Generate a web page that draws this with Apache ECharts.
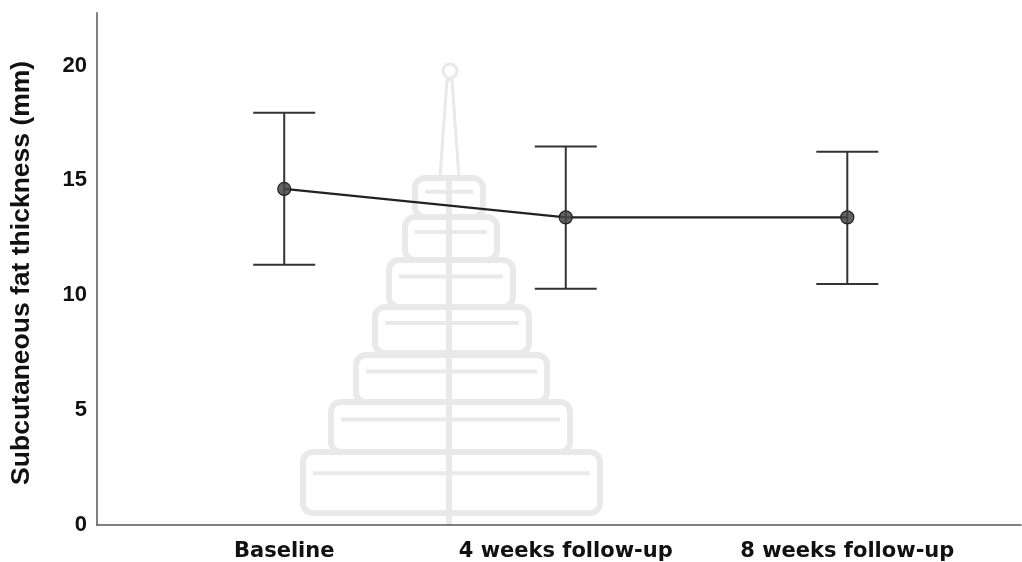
<!DOCTYPE html>
<html>
<head>
<meta charset="utf-8">
<script src="https://cdn.jsdelivr.net/npm/echarts@6/dist/echarts.min.js"></script>
<style>
  html, body { margin: 0; padding: 0; background: #fff; }
  #chart { width: 1022px; height: 562px; }
</style>
</head>
<body>
<div id="chart"></div>
<script>
  // data
  var categories = ['Baseline', '4 weeks follow-up', '8 weeks follow-up'];
  var means = [14.63, 13.39, 13.39];
  var lower = [11.33, 10.28, 10.49];
  var upper = [17.94, 16.48, 16.25];
  var yTicks = [0, 5, 10, 15, 20];

  var chart = echarts.init(document.getElementById('chart'));

  var wm = '#e9e9e9';
  // faint watermark behind the plot (decoration only)
  var tiers = [
    [415, 178, 68, 39], [405, 217, 92, 43], [389, 260, 124, 47],
    [375, 307, 154, 46], [356, 355, 191, 47], [331, 402, 239, 50], [303, 452, 297, 61]
  ];
  var wmChildren = [];
  tiers.forEach(function (t) {
    wmChildren.push({
      type: 'rect',
      shape: { x: t[0], y: t[1], width: t[2], height: t[3], r: 10 },
      style: { fill: 'none', stroke: wm, lineWidth: 6 }
    });
    wmChildren.push({
      type: 'line',
      shape: { x1: t[0] + 10, y1: t[1] + t[3] * 0.35, x2: t[0] + t[2] - 10, y2: t[1] + t[3] * 0.35 },
      style: { stroke: wm, lineWidth: 4 }
    });
  });
  wmChildren.push({
    type: 'polygon',
    shape: { points: [[447, 80], [452, 80], [459, 178], [440, 178]] },
    style: { fill: 'none', stroke: wm, lineWidth: 3 }
  });
  wmChildren.push({
    type: 'circle',
    shape: { cx: 450, cy: 71, r: 7 },
    style: { fill: 'none', stroke: wm, lineWidth: 3 }
  });
  wmChildren.push({
    type: 'line',
    shape: { x1: 449, y1: 178, x2: 449, y2: 525 },
    style: { stroke: wm, lineWidth: 6 }
  });

  var option = {
    backgroundColor: '#fff',
    animation: false,
    graphic: [{ type: 'group', z: -10, silent: true, children: wmChildren }],
    grid: {
      left: 97,
      right: 1,
      top: 12.7,
      bottom: 37,
      outerBoundsMode: 'none',
      containLabel: false
    },
    xAxis: {
      type: 'value',
      min: -0.665,
      max: 2.617,
      splitLine: { show: false },
      axisTick: { show: false },
      axisLine: { onZero: false, lineStyle: { color: '#555', width: 1.5 } },
      axisLabel: {
        customValues: [0, 1, 2],
        formatter: function (v) { return categories[v]; },
        color: '#111',
        fontFamily: 'DejaVu Sans',
        fontWeight: 'bold',
        fontSize: 21,
        margin: 16
      }
    },
    yAxis: {
      type: 'value',
      min: 0,
      max: 22.3,
      interval: 5,
      name: 'Subcutaneous fat thickness (mm)',
      nameLocation: 'middle',
      nameGap: 62,
      nameTextStyle: {
        color: '#111',
        fontFamily: 'Liberation Sans',
        fontWeight: 'bold',
        fontSize: 26.5,
        padding: [0, 8, 0, 0]
      },
      splitLine: { show: false },
      axisTick: { show: false },
      axisLine: { show: true, onZero: false, lineStyle: { color: '#555', width: 1.5 } },
      axisLabel: {
        customValues: yTicks,
        color: '#111',
        fontFamily: 'Liberation Sans',
        fontWeight: 'bold',
        fontSize: 22,
        margin: 10
      }
    },
    series: [
      {
        name: 'error',
        type: 'custom',
        z: 3,
        data: lower.map(function (v, i) { return [i, v, upper[i]]; }),
        renderItem: function (params, api) {
          var x = api.value(0);
          var pLo = api.coord([x, api.value(1)]);
          var pHi = api.coord([x, api.value(2)]);
          var cap = 31;
          var st = { stroke: '#333', lineWidth: 2 };
          return {
            type: 'group',
            children: [
              { type: 'line', shape: { x1: pHi[0], y1: pHi[1], x2: pLo[0], y2: pLo[1] }, style: st },
              { type: 'line', shape: { x1: pHi[0] - cap, y1: pHi[1], x2: pHi[0] + cap, y2: pHi[1] }, style: st },
              { type: 'line', shape: { x1: pLo[0] - cap, y1: pLo[1], x2: pLo[0] + cap, y2: pLo[1] }, style: st }
            ]
          };
        }
      },
      {
        name: 'mean',
        type: 'line',
        z: 4,
        data: means.map(function (v, i) { return [i, v]; }),
        symbol: 'circle',
        symbolSize: 13,
        lineStyle: { color: '#222', width: 2.2 },
        itemStyle: { color: 'rgba(70,70,70,0.85)', borderColor: '#222', borderWidth: 1.2 }
      }
    ]
  };
  chart.setOption(option);
  window.addEventListener('resize', function () {
    chart.resize();
  });
</script>
</body>
</html>
